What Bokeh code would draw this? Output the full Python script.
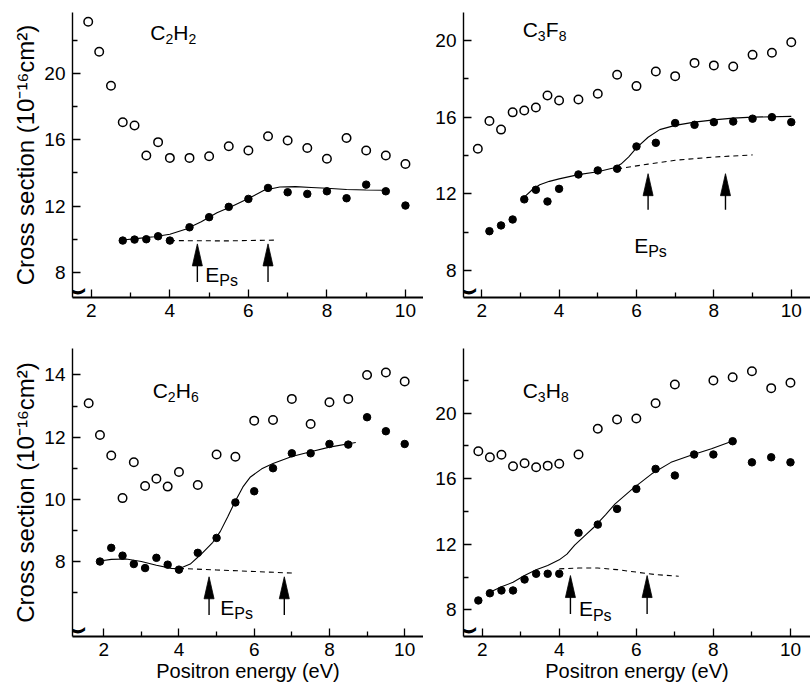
from bokeh.plotting import figure
from bokeh.layouts import column, row
from bokeh.models import Range1d, FixedTicker, ColumnDataSource, Label
from bokeh.core.properties import value, field
from bokeh.embed import file_html
from bokeh.resources import INLINE

FONT = "Liberation Sans"

# ---------------- data ----------------
# C2H2
c2h2_open_x = [1.92, 2.2, 2.5, 2.8, 3.1, 3.4, 3.7, 4.0, 4.5, 5.0, 5.5, 6.0, 6.5, 7.0, 7.5, 8.0, 8.5, 9.0, 9.5, 10.0]
c2h2_open_y = [23.1, 21.3, 19.25, 17.05, 16.85, 15.05, 15.85, 14.9, 14.9, 15.0, 15.6, 15.35, 16.2, 15.95, 15.5, 14.85, 16.1, 15.35, 15.05, 14.53]
c2h2_fill_x = [2.8, 3.1, 3.4, 3.7, 4.0, 4.5, 5.0, 5.5, 6.0, 6.5, 7.0, 7.5, 8.0, 8.5, 9.0, 9.5, 10.0]
c2h2_fill_y = [9.92, 9.98, 10.0, 10.18, 9.92, 10.72, 11.33, 11.95, 12.43, 13.09, 12.83, 12.73, 12.89, 12.47, 13.29, 12.89, 12.03]
c2h2_fit_x = [2.8, 3.2, 3.6, 4.0, 4.4, 4.8, 5.2, 5.6, 6.0, 6.4, 6.8, 7.2, 7.6, 8.0, 8.5, 9.0, 9.5]
c2h2_fit_y = [9.95, 10.05, 10.15, 10.3, 10.6, 11.05, 11.6, 12.0, 12.45, 12.95, 13.15, 13.17, 13.12, 13.07, 13.0, 12.97, 12.95]
c2h2_dash_x = [4.0, 5.4, 6.7]
c2h2_dash_y = [9.92, 9.9, 9.95]
c2h2_arrow_x = [4.7, 6.5]
c2h2_arrow_tip = 9.72
c2h2_arrow_base = 7.42

# C3F8
c3f8_open_x = [1.9, 2.2, 2.5, 2.8, 3.1, 3.4, 3.7, 4.0, 4.5, 5.0, 5.5, 6.0, 6.5, 7.0, 7.5, 8.0, 8.5, 9.0, 9.5, 10.0]
c3f8_open_y = [14.35, 15.8, 15.35, 16.25, 16.35, 16.5, 17.13, 16.87, 16.92, 17.22, 18.21, 17.62, 18.38, 18.14, 18.83, 18.7, 18.64, 19.25, 19.36, 19.91]
c3f8_fill_x = [2.2, 2.5, 2.8, 3.1, 3.4, 3.7, 4.0, 4.5, 5.0, 5.5, 6.0, 6.5, 7.0, 7.5, 8.0, 8.5, 9.0, 9.5, 10.0]
c3f8_fill_y = [10.05, 10.35, 10.66, 11.71, 12.21, 11.6, 12.26, 13.01, 13.22, 13.31, 14.47, 14.66, 15.69, 15.6, 15.74, 15.77, 15.92, 16.0, 15.74]
c3f8_fit_x = [3.1, 3.3, 3.5, 3.75, 4.0, 4.5, 5.0, 5.4, 5.6, 5.8, 6.0, 6.3, 6.6, 7.0, 7.5, 8.0, 8.5, 9.0, 10.0]
c3f8_fit_y = [11.83, 12.2, 12.47, 12.65, 12.78, 13.0, 13.15, 13.35, 13.55, 13.93, 14.4, 14.95, 15.35, 15.57, 15.74, 15.86, 15.95, 16.0, 16.04]
c3f8_dash_x = [5.5, 6.3, 7.0, 8.0, 9.0]
c3f8_dash_y = [13.3, 13.55, 13.75, 13.92, 14.03]
c3f8_arrow_x = [6.3, 8.3]
c3f8_arrow_tip = 13.05
c3f8_arrow_base = 11.17

# C2H6
c2h6_open_x = [1.6, 1.9, 2.2, 2.5, 2.8, 3.1, 3.4, 3.7, 4.0, 4.5, 5.0, 5.5, 6.0, 6.5, 7.0, 7.5, 8.0, 8.5, 9.0, 9.5, 10.0]
c2h6_open_y = [13.09, 12.07, 11.41, 10.04, 11.19, 10.43, 10.66, 10.41, 10.88, 10.46, 11.44, 11.37, 12.53, 12.55, 13.23, 12.42, 13.12, 13.23, 14.0, 14.08, 13.79]
c2h6_fill_x = [1.9, 2.2, 2.5, 2.8, 3.1, 3.4, 3.7, 4.0, 4.5, 5.0, 5.5, 6.0, 6.5, 7.0, 7.5, 8.0, 8.5, 9.0, 9.5, 10.0]
c2h6_fill_y = [8.0, 8.44, 8.19, 7.92, 7.79, 8.12, 7.9, 7.74, 8.28, 8.76, 9.9, 10.26, 11.0, 11.48, 11.48, 11.78, 11.76, 12.64, 12.19, 11.78]
c2h6_fit_x = [1.9, 2.2, 2.6, 3.0, 3.4, 3.8, 4.0, 4.3, 4.6, 4.9, 5.1, 5.3, 5.5, 5.7, 5.9, 6.2, 6.5, 7.0, 7.5, 8.0, 8.7]
c2h6_fit_y = [8.02, 8.07, 8.08, 8.0, 7.88, 7.78, 7.77, 7.92, 8.25, 8.62, 8.97, 9.45, 9.95, 10.4, 10.72, 10.98, 11.15, 11.38, 11.53, 11.68, 11.83]
c2h6_dash_x = [4.0, 5.0, 6.0, 7.0]
c2h6_dash_y = [7.78, 7.73, 7.68, 7.63]
c2h6_arrow_x = [4.8, 6.8]
c2h6_arrow_tip = 7.51
c2h6_arrow_base = 6.28

# C3H8
c3h8_open_x = [1.9, 2.2, 2.5, 2.8, 3.1, 3.4, 3.7, 4.0, 4.5, 5.0, 5.5, 6.0, 6.5, 7.0, 8.0, 8.5, 9.0, 9.5, 10.0]
c3h8_open_y = [17.68, 17.31, 17.46, 16.76, 16.95, 16.7, 16.8, 16.91, 17.48, 19.05, 19.62, 19.68, 20.61, 21.75, 22.0, 22.2, 22.56, 21.53, 21.86]
c3h8_fill_x = [1.9, 2.2, 2.5, 2.8, 3.1, 3.4, 3.7, 4.0, 4.5, 5.0, 5.5, 6.0, 6.5, 7.0, 7.5, 8.0, 8.5, 9.0, 9.5, 10.0]
c3h8_fill_y = [8.57, 9.01, 9.18, 9.18, 9.85, 10.2, 10.2, 10.2, 12.7, 13.2, 14.16, 15.38, 16.6, 16.2, 17.48, 17.48, 18.29, 17.0, 17.31, 17.0]
c3h8_fit_x = [2.2, 2.5, 2.8, 3.1, 3.4, 3.7, 4.0, 4.2, 4.4, 4.7, 4.9, 5.2, 5.45, 5.9, 6.4, 6.9, 7.4, 7.95, 8.5]
c3h8_fit_y = [9.07, 9.4, 9.68, 10.09, 10.44, 10.7, 11.05, 11.4, 11.95, 12.6, 13.04, 13.8, 14.47, 15.38, 16.3, 17.0, 17.42, 17.83, 18.3]
c3h8_dash_x = [4.0, 4.5, 5.0, 5.5, 6.0, 6.5, 7.1]
c3h8_dash_y = [10.5, 10.55, 10.55, 10.45, 10.3, 10.15, 10.05]
c3h8_arrow_x = [4.29, 6.28]
c3h8_arrow_tip = 10.09
c3h8_arrow_base = 7.74

# ticks
x_major = [2, 4, 6, 8, 10]
x_minor = [3, 5, 7, 9]
y_major_4 = [8, 12, 16, 20]
y_minor_4 = [10, 14, 18, 22]
y_major_2 = [8, 10, 12, 14]
y_minor_2 = [7, 9, 11, 13]

Y_LABEL = "Cross section (10\u207b\u00b9\u2076cm\u00b2)"
X_LABEL = "Positron energy (eV)"

# Arial / Liberation Sans advance widths (em)
W = {'C': .722, 'H': .722, 'F': .611, 'E': .667, 'P': .667, 's': .5,
     '2': .556, '3': .556, '6': .556, '8': .556}


def rich(p, sx, sy, x0, y0, pieces, size, sub_ratio=0.68):
    xs, ys, ts, fs = [], [], [], []
    cur = 0.0
    for t, sub in pieces:
        fsz = size * sub_ratio if sub else size
        drop = size * 0.30 if sub else 0.0
        xs.append(x0 + cur / sx)
        ys.append(y0 - drop / sy)
        ts.append(t)
        fs.append("%dpx" % round(fsz))
        cur += sum(W[c] for c in t) * fsz
    src = ColumnDataSource(dict(x=xs, y=ys, text=ts, fs=fs))
    p.text(x='x', y='y', text='text', text_font_size=field('fs'), source=src,
           text_font=value(FONT), text_align='left', text_baseline='alphabetic',
           text_color='black')


def panel(xr, yr, fw, fh, left, top, bottom, yticks, ylab, xlab,
          ox, oy, fx, fy, kx, ky, dx, dy, ax, atip, abase,
          formula, fpos, epos):
    p = figure(frame_width=fw, frame_height=fh, x_range=Range1d(*xr), y_range=Range1d(*yr),
               output_backend="svg", toolbar_location=None, min_border_left=left,
               min_border_right=0, min_border_top=top, min_border_bottom=bottom)
    p.outline_line_color = None
    p.xgrid.visible = False
    p.ygrid.visible = False
    p.background_fill_color = "white"
    p.border_fill_color = "white"
    sx = fw / (xr[1] - xr[0])
    sy = fh / (yr[1] - yr[0])

    p.xaxis.ticker = FixedTicker(ticks=x_major, minor_ticks=x_minor)
    p.yaxis.ticker = FixedTicker(ticks=yticks[0], minor_ticks=yticks[1])
    for ax_ in (p.xaxis, p.yaxis):
        ax_.major_tick_in = 8
        ax_.major_tick_out = 0
        ax_.minor_tick_in = 5
        ax_.minor_tick_out = 0
        ax_.major_tick_line_width = 1.3
        ax_.minor_tick_line_width = 1.3
        ax_.major_label_text_font = FONT
        ax_.major_label_text_font_size = "19px"
        ax_.major_label_text_color = "black"
        ax_.axis_label_text_font = FONT
        ax_.axis_label_text_font_style = "normal"
        ax_.axis_label_text_color = "black"
    p.xaxis.axis_line_width = 2.2
    p.yaxis.axis_line_width = 1.4
    p.xaxis.major_label_standoff = 6
    p.yaxis.major_label_standoff = 7
    if ylab:
        p.yaxis.axis_label = Y_LABEL
        p.yaxis.axis_label_text_font_size = "24px"
        p.yaxis.axis_label_standoff = 2
    if xlab:
        p.xaxis.axis_label = X_LABEL
        p.xaxis.axis_label_text_font_size = "20px"
        p.xaxis.axis_label_standoff = 1

    # data
    p.line(kx, ky, line_color="black", line_width=1.1)
    p.line(dx, dy, line_color="black", line_width=1.1, line_dash="5 4")
    p.scatter(ox, oy, marker="circle", size=8.5, fill_color="white", line_color="black", line_width=1.5)
    p.scatter(fx, fy, marker="circle", size=7.5, fill_color="black", line_color="black")

    # arrows: shaft + narrow filled head
    hl = 22.0 / sy
    hw = 5.0 / sx
    p.segment(x0=ax, y0=[abase] * len(ax), x1=ax, y1=[atip - hl * 0.5] * len(ax),
              line_color="black", line_width=1.4)
    p.patches(xs=[[a - hw, a, a + hw] for a in ax],
              ys=[[atip - hl, atip, atip - hl] for _ in ax],
              fill_color="black", line_color="black", line_width=0.8)

    # texts
    rich(p, sx, sy, fpos[0], fpos[1], formula, 21)
    rich(p, sx, sy, epos[0], epos[1], [("E", False), ("Ps", True)], 21, 0.74)

    # axis break mark (tilde across the bottom of the y axis)
    p.add_layout(Label(x=xr[0], y=yr[0], x_offset=0, y_offset=8,
                       text="\u223c", text_font="DejaVu Sans",
                       text_font_size="40px", text_align="center",
                       text_baseline="middle", text_color="black"))
    return p


p1 = panel((1.52, 10.46), (6.49, 23.66), 351, 285, 72, 12, 33, (y_major_4, y_minor_4), True, False,
           c2h2_open_x, c2h2_open_y, c2h2_fill_x, c2h2_fill_y, c2h2_fit_x, c2h2_fit_y,
           c2h2_dash_x, c2h2_dash_y, c2h2_arrow_x, c2h2_arrow_tip, c2h2_arrow_base,
           [("C", False), ("2", True), ("H", False), ("2", True)], (3.5, 22.43), (4.9, 7.87))
p2 = panel((1.53, 10.497), (6.59, 21.46), 347, 285, 40, 12, 33, (y_major_4, y_minor_4), False, False,
           c3f8_open_x, c3f8_open_y, c3f8_fill_x, c3f8_fill_y, c3f8_fit_x, c3f8_fit_y,
           c3f8_dash_x, c3f8_dash_y, c3f8_arrow_x, c3f8_arrow_tip, c3f8_arrow_base,
           [("C", False), ("3", True), ("F", False), ("8", True)], (3.06, 20.57), (5.94, 9.31))
p3 = panel((1.17, 10.5), (5.59, 14.85), 351, 288, 72, 18, 55, (y_major_2, y_minor_2), True, True,
           c2h6_open_x, c2h6_open_y, c2h6_fill_x, c2h6_fill_y, c2h6_fit_x, c2h6_fit_y,
           c2h6_dash_x, c2h6_dash_y, c2h6_arrow_x, c2h6_arrow_tip, c2h6_arrow_base,
           [("C", False), ("2", True), ("H", False), ("6", True)], (3.3, 13.5), (5.1, 6.53))
p4 = panel((1.515, 10.52), (6.37, 23.95), 347, 288, 40, 18, 55, (y_major_4, y_minor_4), False, True,
           c3h8_open_x, c3h8_open_y, c3h8_fill_x, c3h8_fill_y, c3h8_fit_x, c3h8_fit_y,
           c3h8_dash_x, c3h8_dash_y, c3h8_arrow_x, c3h8_arrow_tip, c3h8_arrow_base,
           [("C", False), ("3", True), ("H", False), ("8", True)], (3.05, 21.39), (4.51, 8.06))

layout = column(row(p1, p2), row(p3, p4))
open("out.html", "w").write(file_html(layout, INLINE))
